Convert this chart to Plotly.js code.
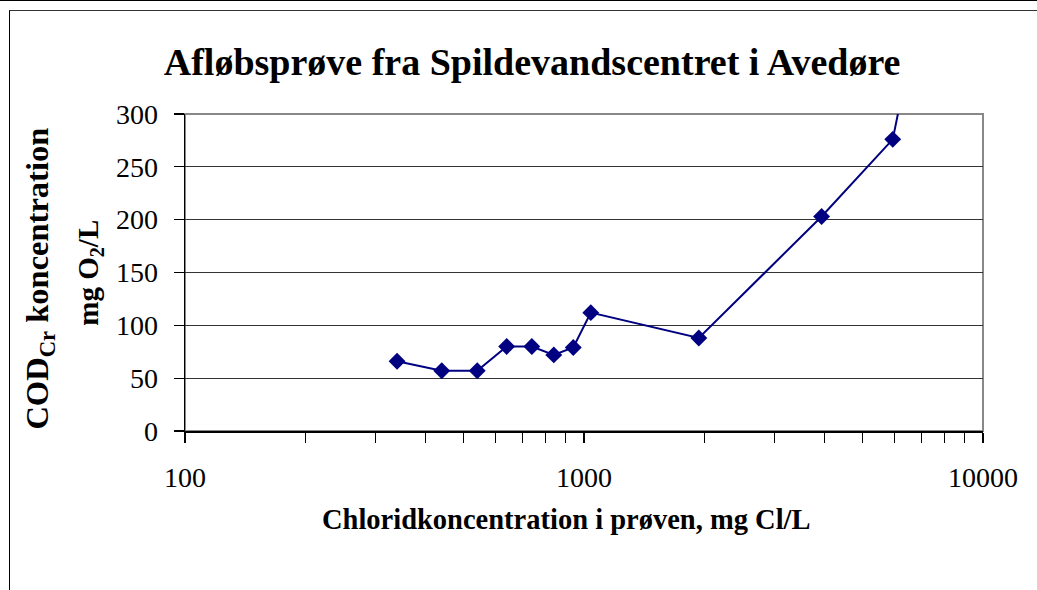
<!DOCTYPE html>
<html>
<head>
<meta charset="utf-8">
<script src="https://cdn.plot.ly/plotly-3.0.1.min.js"></script>
<style>
html,body{margin:0;padding:0;background:#fff;overflow:hidden;}
#wrap{position:relative;width:1037px;height:590px;}
#chart{position:absolute;left:0;top:0;width:1037px;height:590px;}
.b{position:absolute;pointer-events:none;}
</style>
</head>
<body>
<div id="wrap">
<div id="chart"></div>
<div class="b" style="left:0;top:0;width:1037px;height:0;border-top:1.5px solid #000;"></div>
<div class="b" style="left:9px;top:10px;width:1028px;height:580px;border-top:1.5px solid #333;border-left:1.5px solid #000;"></div>
</div>
<script>
const chlorid = [340, 440, 540, 640, 740, 840, 940, 1040, 1940, 3940, 5940, 7940];
const cod = [66, 57, 57, 80, 80, 72, 79, 112, 88, 203, 276, 510];
const xTickVals = [100, 1000, 10000];
const xTickText = ['100', '1000', '10000'];
const xMinorVals = [200, 300, 400, 500, 600, 700, 800, 900, 2000, 3000, 4000, 5000, 6000, 7000, 8000, 9000];
const yTickVals = [0, 50, 100, 150, 200, 250, 300];

const serif = 'Liberation Serif, Times New Roman, serif';
const navy = '#000080';

const trace = {
  x: chlorid, y: cod, type: 'scatter', mode: 'lines+markers',
  line: {color: navy, width: 2},
  marker: {symbol: 'diamond', size: 13, color: navy},
  hoverinfo: 'x+y'
};

const layout = {
  width: 1037, height: 590,
  margin: {l: 185, r: 54, t: 114, b: 159},
  paper_bgcolor: '#fff', plot_bgcolor: '#fff',
  showlegend: false,
  font: {family: serif, color: '#000', size: 28},
  title: {text: '<b>Afløbsprøve fra Spildevandscentret i Avedøre</b>',
          font: {family: serif, size: 38, color: '#000'},
          x: 0.435, xref: 'paper', xanchor: 'center', y: 0.895, yref: 'container', yanchor: 'middle'},
  xaxis: {
    type: 'log', range: [2, 4], tickmode: 'array', tickvals: xTickVals, ticktext: xTickText,
    ticks: 'outside', ticklen: 10, tickwidth: 1.2, tickcolor: '#000',
    showline: true, linecolor: '#000', linewidth: 1.5,
    showgrid: false, zeroline: false, ticklabelstandoff: 11,
    minor: {tickmode: 'array', tickvals: xMinorVals, ticks: 'outside', ticklen: 10, tickwidth: 1.2, tickcolor: '#000', showgrid: false},
    tickfont: {family: serif, size: 28, color: '#000'}
  },
  yaxis: {
    range: [0, 300], tickmode: 'array', tickvals: yTickVals,
    ticks: 'outside', ticklen: 10, tickwidth: 1.2, tickcolor: '#000',
    showline: true, linecolor: '#000', linewidth: 1.5,
    showgrid: true, gridcolor: '#333', gridwidth: 1.2, zeroline: false,
    ticklabelstandoff: 10,
    tickfont: {family: serif, size: 28, color: '#000'}
  },
  shapes: [
    {type: 'rect', xref: 'paper', yref: 'paper', x0: 0, x1: 1, y0: 0, y1: 1,
     line: {color: '#888', width: 2}, layer: 'below'}
  ],
  annotations: [
    {text: '<b>Chloridkoncentration i prøven, mg Cl/L</b>', xref: 'paper', yref: 'paper',
     x: 0.478, y: -0.28, xanchor: 'center', yanchor: 'middle', showarrow: false,
     font: {family: serif, size: 28.5, color: '#000'}},
    {text: '<b>COD<sub>Cr</sub> koncentration</b>', xref: 'paper', yref: 'paper',
     x: -0.182, y: 0.48, xanchor: 'center', yanchor: 'middle', showarrow: false, textangle: -90,
     font: {family: serif, size: 32.5, color: '#000'}},
    {text: '<b>mg O<sub>2</sub>/L</b>', xref: 'paper', yref: 'paper',
     x: -0.12, y: 0.5, xanchor: 'center', yanchor: 'middle', showarrow: false, textangle: -90,
     font: {family: serif, size: 29, color: '#000'}}
  ]
};

Plotly.newPlot('chart', [trace], layout, {displayModeBar: false, staticPlot: true});
</script>
</body>
</html>
